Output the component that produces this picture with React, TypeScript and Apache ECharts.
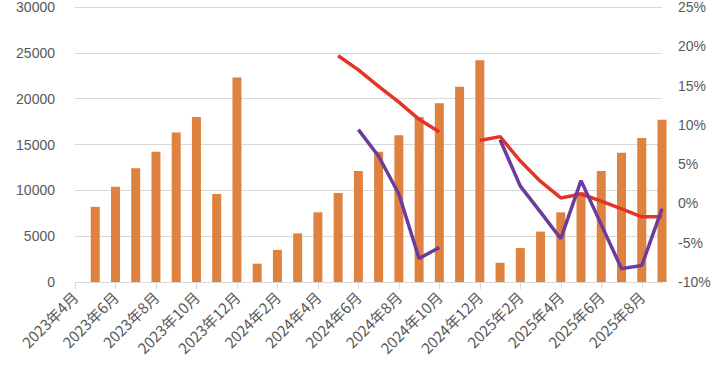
import React, { useEffect, useRef } from "react";
import * as echarts from "echarts";

const months: string[] = [
  "2023年4月", "2023年5月", "2023年6月", "2023年7月", "2023年8月", "2023年9月",
  "2023年10月", "2023年11月", "2023年12月", "2024年1月", "2024年2月", "2024年3月",
  "2024年4月", "2024年5月", "2024年6月", "2024年7月", "2024年8月", "2024年9月",
  "2024年10月", "2024年11月", "2024年12月", "2025年1月", "2025年2月", "2025年3月",
  "2025年4月", "2025年5月", "2025年6月", "2025年7月", "2025年8月", "2025年9月",
];

const barValues: (number | null)[] = [
  null, 8200, 10400, 12400, 14200, 16300, 18000, 9600, 22300, 2000, 3500, 5300,
  7600, 9700, 12100, 14200, 16000, 18000, 19500, 21300, 24200, 2100, 3700, 5500,
  7600, 9800, 12100, 14100, 15700, 17700,
];

const redLine: (number | null)[] = [
  null, null, null, null, null, null, null, null, null, null, null, null,
  null, 18.8, 17.0, 14.9, 12.9, 10.7, 9.1, null, 8.0, 8.5, 5.4, 2.8,
  0.7, 1.2, 0.3, -0.7, -1.7, -1.7,
];

const purpleLine: (number | null)[] = [
  null, null, null, null, null, null, null, null, null, null, null, null,
  null, null, 9.4, 6.0, 1.2, -7.0, -5.6, null, null, 8.1, 2.2, -1.1,
  -4.5, 2.9, -2.7, -8.3, -7.9, -0.7,
];

export default function App() {
  const ref = useRef<HTMLDivElement>(null);
  useEffect(() => {
    if (!ref.current) return;
    const chart = echarts.init(ref.current, null, { renderer: "svg" });
    const labelColor = "#595959";
    chart.setOption({
      animation: false,
      grid: { left: 75, right: 58, top: 4, bottom: 98, containLabel: false },
      xAxis: {
        type: "category",
        data: months,
        boundaryGap: false,
        axisLine: { lineStyle: { color: "#D9D9D9", width: 1 } },
        axisTick: { show: true, interval: 1, length: 7, lineStyle: { color: "#D9D9D9" } },
        axisLabel: {
          interval: 1,
          rotate: 45,
          color: labelColor,
          fontSize: 15,
          fontFamily: "Noto Sans CJK SC, sans-serif",
          margin: 12,
        },
      },
      yAxis: [
        {
          type: "value",
          min: 0,
          max: 30000,
          interval: 5000,
          axisLine: { show: false },
          axisTick: { show: false },
          splitLine: { lineStyle: { color: "#D9D9D9", width: 1 } },
          axisLabel: {
            color: labelColor,
            fontSize: 14,
            margin: 20,
            formatter: (v: number) => String(v),
            fontFamily: "Liberation Sans, sans-serif",
          },
        },
        {
          type: "value",
          min: -10,
          max: 25,
          interval: 5,
          position: "right",
          axisLine: { show: false },
          axisTick: { show: false },
          splitLine: { show: false },
          axisLabel: {
            color: labelColor,
            fontSize: 14,
            margin: 16,
            formatter: "{value}%",
            fontFamily: "Liberation Sans, sans-serif",
          },
        },
      ],
      series: [
        {
          type: "bar",
          data: barValues,
          barWidth: 9,
          clip: true,
          itemStyle: { color: "#E0823F" },
          yAxisIndex: 0,
        },
        {
          type: "line",
          data: redLine,
          yAxisIndex: 1,
          showSymbol: false,
          symbol: "none",
          connectNulls: false,
          lineStyle: { color: "#E5332A", width: 3.5 },
          z: 3,
        },
        {
          type: "line",
          data: purpleLine,
          yAxisIndex: 1,
          showSymbol: false,
          symbol: "none",
          connectNulls: false,
          lineStyle: { color: "#6A3C9E", width: 3.5 },
          z: 4,
        },
      ],
    });
    return () => chart.dispose();
  }, []);
  return (
    <div
      ref={ref}
      style={{ position: "fixed", left: 0, top: 0, width: 720, height: 380, background: "#fff" }}
    />
  );
}
